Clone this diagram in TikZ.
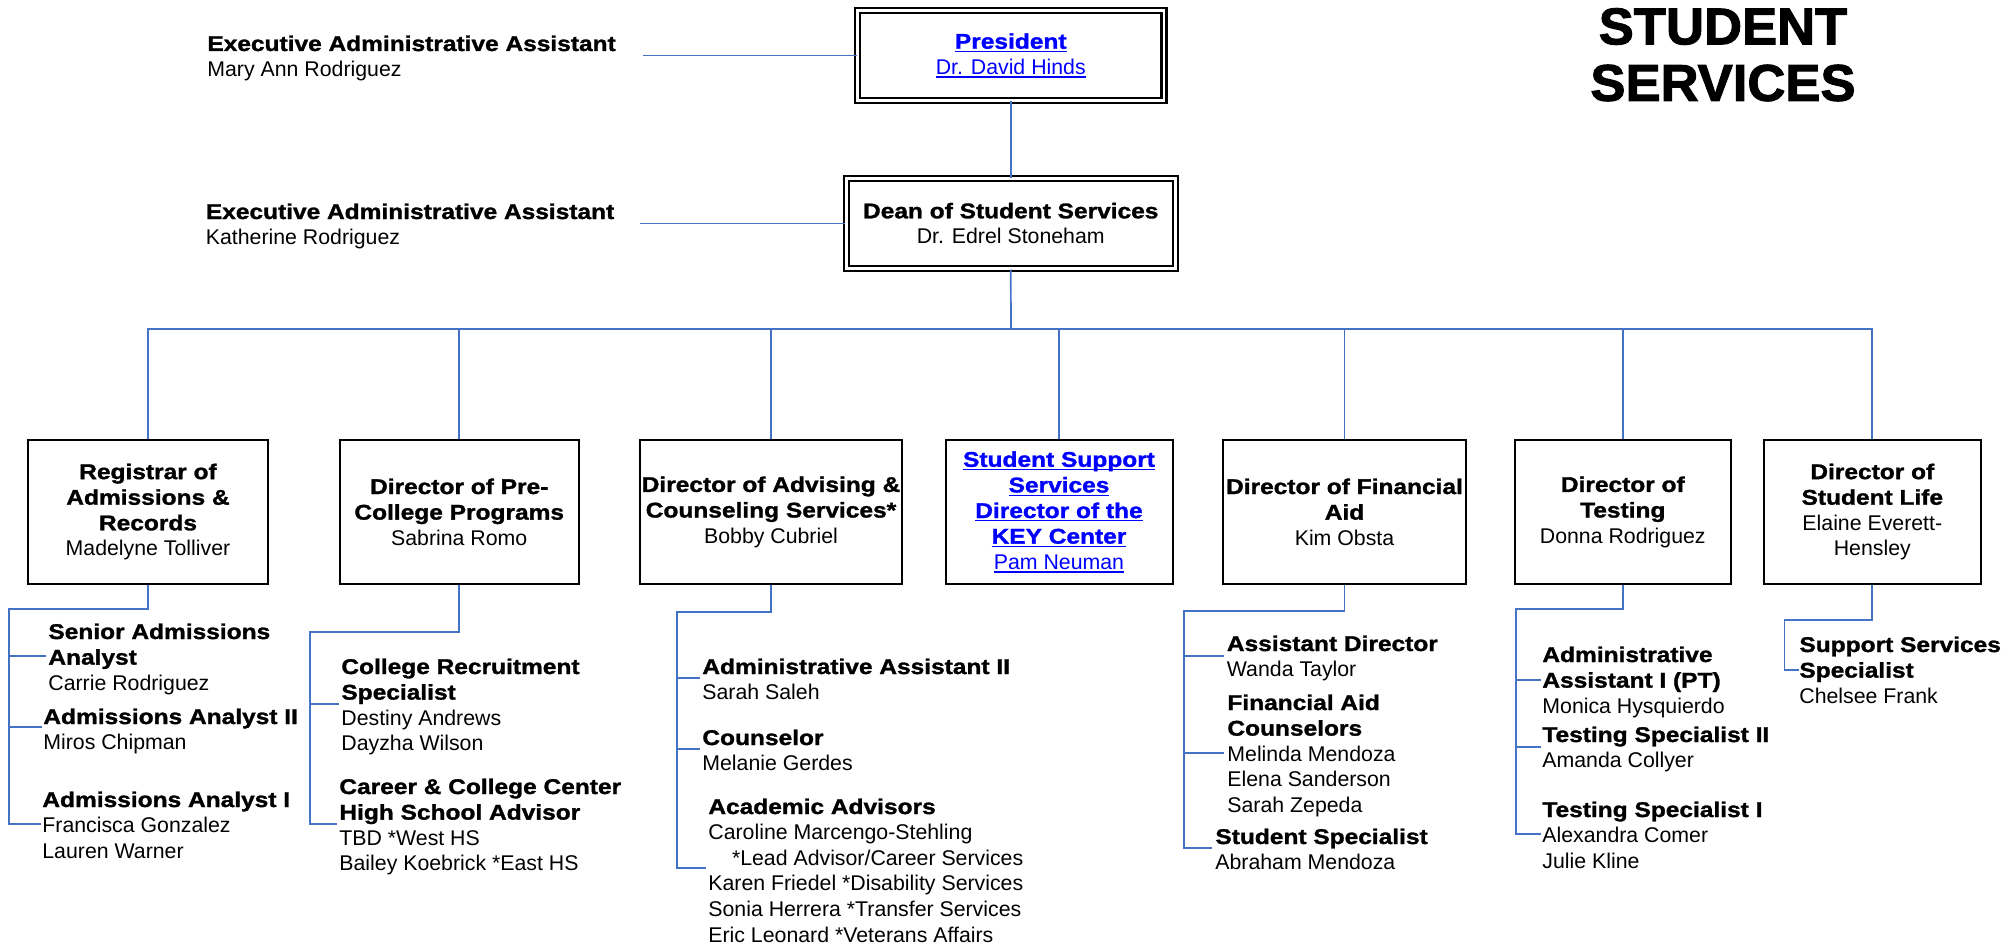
\documentclass[tikz,border=0pt]{standalone}
\usepackage{fontspec}
\setmainfont{Liberation Sans}
\newfontfamily\hfam{Liberation Sans}[FakeStretch=1.15, FakeBold=1.4]
\newfontfamily\tfam{Liberation Sans}[FakeStretch=1.02, FakeBold=2]
\newcommand\hd{\hfam\bfseries}
\definecolor{conn}{RGB}{68,114,196}
\definecolor{lnk}{RGB}{0,0,255}
\newsavebox\ulb
\newcommand\lk[1]{\sbox\ulb{#1}\rlap{\rule[-1.7pt]{\wd\ulb}{0.65pt}}\usebox\ulb}
\newcommand\blk[1]{\vtop{\let\\\cr\halign{##\hfil\cr#1\crcr}}}
\tikzset{
  fnt/.style={font=\fontsize{10.65}{12.8}\selectfont},
  tx/.style={fnt, anchor=base west, inner sep=0},
  bx/.style={fnt, draw, line width=1pt, minimum height=72pt, inner sep=0, align=center},
  dbl/.style={fnt, draw, line width=1.1pt, double=white, double distance=1.4pt, minimum height=44.9pt, inner sep=0, align=center},
  cn/.style={draw=conn, line width=0.85pt}
}
\begin{document}
\begin{tikzpicture}[x=0.5pt,y=-0.5pt]
\useasboundingbox (0,0) rectangle (2013,947);
% top
\node[dbl, minimum width=153.15pt, text=lnk] (pres) at (1010.75,55.5) {{\hd\lk{President}}\\\lk{Dr. David Hinds}};
\node[dbl, minimum width=164.65pt] (dean) at (1010.75,223.5) {{\hd Dean of Student Services}\\Dr. Edrel Stoneham};
\node[tx] (eaa1) at (207,51) {\blk{\hd Executive Administrative Assistant\\Mary Ann Rodriguez}};
\node[tx] (eaa2) at (205.5,219) {\blk{\hd Executive Administrative Assistant\\Katherine Rodriguez}};
\node[font=\tfam\bfseries\fontsize{25.8}{28.25}\selectfont, align=center, inner sep=0] (title) at (1723,54.75) {STUDENT\\SERVICES};
% boxes
\node[bx, minimum width=120pt] (reg) at (148,512) {{\hd Registrar of}\\{\hd Admissions \&}\\{\hd Records}\\Madelyne Tolliver};
\node[bx, minimum width=119.75pt] (pre) at (459.25,512) {{\hd Director of Pre-}\\{\hd College Programs}\\Sabrina Romo};
\node[bx, minimum width=131pt] (adv) at (771,512) {{\hd Director of Advising \&}\\{\hd Counseling Services*}\\Bobby Cubriel};
\node[bx, minimum width=113.5pt, text=lnk] (sss) at (1059,512) {{\hd\lk{Student Support}}\\{\hd\lk{Services}}\\{\hd\lk{Director of the}}\\{\hd\lk{KEY Center}}\\\lk{Pam Neuman}};
\node[bx, minimum width=121.5pt] (fin) at (1344.5,512) {{\hd Director of Financial}\\{\hd Aid}\\Kim Obsta};
\node[bx, minimum width=107.8pt] (tst) at (1622.8,512) {{\hd Director of}\\{\hd Testing}\\Donna Rodriguez};
\node[bx, minimum width=108.7pt] (life) at (1872.3,512) {{\hd Director of}\\{\hd Student Life}\\Elaine Everett-\\Hensley};
% staff texts
\node[tx] (s1) at (48,639) {\blk{\hd Senior Admissions\\\hd Analyst\\Carrie Rodriguez}};
\node[tx] (s2) at (43,724) {\blk{\hd Admissions Analyst II\\Miros Chipman}};
\node[tx] (s3) at (42,807) {\blk{\hd Admissions Analyst I\\Francisca Gonzalez\\Lauren Warner}};
\node[tx] (p1t) at (341,674) {\blk{\hd College Recruitment\\\hd Specialist\\Destiny Andrews\\Dayzha Wilson}};
\node[tx] (p2t) at (339,794) {\blk{\hd Career \& College Center\\\hd High School Advisor\\TBD *West HS\\Bailey Koebrick *East HS}};
\node[tx] (a1t) at (702,674) {\blk{\hd Administrative Assistant II\\Sarah Saleh}};
\node[tx] (a2t) at (702,745) {\blk{\hd Counselor\\Melanie Gerdes}};
\node[tx] (a3t) at (708,814) {\blk{\hd Academic Advisors\\Caroline Marcengo-Stehling\\\hspace*{11.8pt}*Lead Advisor/Career Services\\Karen Friedel *Disability Services\\Sonia Herrera *Transfer Services\\Eric Leonard *Veterans Affairs}};
\node[tx] (f1t) at (1226.5,651) {\blk{\hd Assistant Director\\Wanda Taylor}};
\node[tx] (f2t) at (1227,710) {\blk{\hd Financial Aid\\\hd Counselors\\Melinda Mendoza\\Elena Sanderson\\Sarah Zepeda}};
\node[tx] (f3t) at (1215,844) {\blk{\hd Student Specialist\\Abraham Mendoza}};
\node[tx] (t1t) at (1542,662) {\blk{\hd Administrative\\\hd Assistant I (PT)\\Monica Hysquierdo}};
\node[tx] (t2t) at (1542,742) {\blk{\hd Testing Specialist II\\Amanda Collyer}};
\node[tx] (t3t) at (1542,817) {\blk{\hd Testing Specialist I\\Alexandra Comer\\Julie Kline}};
\node[tx] (l1t) at (1799,652) {\blk{\hd Support Services\\\hd Specialist\\Chelsee Frank}};
% top connectors
\coordinate (c1) at (643,55.5);
\coordinate (c2) at (640,223.5);
\coordinate (bus) at (1011,329);
\draw[cn] (c1) -- (pres.west);
\draw[cn] (c2) -- (dean.west);
\draw[cn] (pres.south) -- (dean.north);
\draw[cn] (dean.south) -- (bus);
\foreach \b in {reg,pre,adv,sss,fin,tst,life} \draw[cn] (\b.north) |- (bus);
% registrar subtree
\coordinate (rT) at (9,609); \coordinate (r1) at (46,656); \coordinate (r2) at (42,727); \coordinate (r3) at (41,824);
\draw[cn] (reg.south) |- (rT) -- (rT |- r3) -- (r3);
\draw[cn] (rT |- r1) -- (r1);
\draw[cn] (rT |- r2) -- (r2);
% pre-college subtree
\coordinate (pT) at (310,632); \coordinate (p1) at (339,704); \coordinate (p2) at (337,824);
\draw[cn] (pre.south) |- (pT) -- (pT |- p2) -- (p2);
\draw[cn] (pT |- p1) -- (p1);
% advising subtree
\coordinate (aT) at (677,612); \coordinate (a1) at (699.5,678); \coordinate (a2) at (699.5,749); \coordinate (a3) at (706,868);
\draw[cn] (adv.south) |- (aT) -- (aT |- a3) -- (a3);
\draw[cn] (aT |- a1) -- (a1);
\draw[cn] (aT |- a2) -- (a2);
% financial subtree
\coordinate (fT) at (1184,611); \coordinate (f1) at (1224,656); \coordinate (f2) at (1224,753); \coordinate (f3) at (1212,848);
\draw[cn] (fin.south) |- (fT) -- (fT |- f3) -- (f3);
\draw[cn] (fT |- f1) -- (f1);
\draw[cn] (fT |- f2) -- (f2);
% testing subtree
\coordinate (tT) at (1516,609); \coordinate (t1) at (1541,680); \coordinate (t2) at (1541,747); \coordinate (t3) at (1541,834);
\draw[cn] (tst.south) |- (tT) -- (tT |- t3) -- (t3);
\draw[cn] (tT |- t1) -- (t1);
\draw[cn] (tT |- t2) -- (t2);
% student life subtree
\coordinate (lT) at (1784.6,620); \coordinate (l1) at (1799,670);
\draw[cn] (life.south) |- (lT) -- (lT |- l1) -- (l1);
\end{tikzpicture}
\end{document}
